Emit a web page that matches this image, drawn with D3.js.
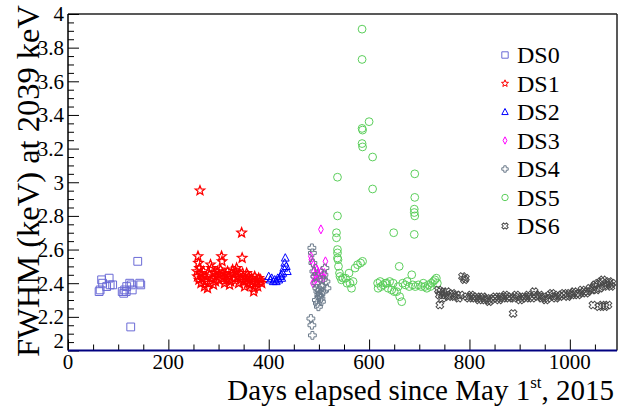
<!DOCTYPE html>
<html><head><meta charset="utf-8">
<script src="https://cdn.jsdelivr.net/npm/d3@7"></script>
</head><body style="margin:0;background:#fff"><svg id="c" width="619" height="407" style="display:block"></svg>
<script>
const xTicks = [0,200,400,600,800,1000];
const yTicks = [2,2.2,2.4,2.6,2.8,3,3.2,3.4,3.6,3.8,4];
const yTickLabels = ["2","2.2","2.4","2.6","2.8","3","3.2","3.4","3.6","3.8","4"];
const seriesNames = ["DS0","DS1","DS2","DS3","DS4","DS5","DS6"];
const seriesColors = ["#6b6bd6","#ff0000","#0000ff","#ff00ff","#6c7b8b","#5ccf5c","#4a4a4a"];
const seriesShapes = ["square","star","triangle","diamond","cross","circle","xcross"];

const ds0 = [[62,2.35],[64,2.36],[67,2.42],[69,2.40],[77,2.38],[82,2.43],[84,2.39],[89,2.39],[108,2.35],[111,2.34],[113,2.36],[116,2.35],[117,2.38],[123,2.40],[126,2.39],[128,2.36],[125,2.14],[139,2.53],[143,2.40],[145,2.39]];
const ds1 = [[257,2.47],[258,2.44],[259,2.56],[260,2.52],[261,2.42],[262,2.49],[263,2.95],[264,2.46],[265,2.40],[266,2.45],[268,2.43],[270,2.47],[272,2.38],[274,2.41],[276,2.44],[278,2.37],[280,2.40],[282,2.45],[284,2.51],[286,2.49],[288,2.43],[290,2.39],[292,2.46],[294,2.41],[296,2.44],[298,2.47],[300,2.42],[302,2.45],[304,2.48],[306,2.56],[307,2.53],[308,2.46],[310,2.43],[312,2.40],[314,2.45],[316,2.42],[318,2.47],[320,2.44],[322,2.39],[324,2.41],[326,2.46],[328,2.48],[330,2.45],[332,2.43],[334,2.47],[336,2.49],[338,2.44],[340,2.40],[342,2.46],[344,2.42],[346,2.70],[347,2.55],[348,2.46],[349,2.44],[350,2.41],[352,2.38],[354,2.43],[356,2.46],[358,2.40],[360,2.44],[362,2.42],[364,2.39],[366,2.43],[368,2.41],[370,2.35],[371,2.37],[372,2.44],[374,2.40],[376,2.42],[378,2.38],[380,2.43],[382,2.41],[384,2.42],[386,2.40]];
const ds2 = [[400,2.44],[403,2.42],[406,2.43],[409,2.41],[412,2.42],[415,2.41],[418,2.43],[420,2.42],[423,2.44],[425,2.45],[426,2.43],[428,2.46],[430,2.49],[432,2.52],[433,2.55],[435,2.50],[437,2.47]];
const ds3 = [[484,2.56],[485,2.54],[487,2.52],[488,2.40],[489,2.44],[490,2.47],[491,2.41],[493,2.45],[494,2.49],[495,2.43],[496,2.48],[498,2.46],[500,2.44],[502,2.42],[504,2.72],[505,2.47],[507,2.45],[509,2.43],[511,2.46],[513,2.53]];
const ds4 = [[486,2.61],[487,2.58],[488,2.52],[490,2.47],[492,2.44],[494,2.40],[496,2.37],[498,2.35],[500,2.33],[502,2.36],[504,2.31],[495,2.30],[497,2.28],[499,2.26],[501,2.32],[503,2.34],[506,2.38],[508,2.42],[510,2.45],[512,2.49],[514,2.41],[516,2.37],[484,2.19],[486,2.15],[487,2.09],[505,2.29],[509,2.35]];
const ds5 = [[537,3.03],[537,2.80],[535,2.70],[535,2.67],[537,2.60],[537,2.58],[537,2.55],[538,2.54],[539,2.50],[541,2.46],[542,2.44],[545,2.42],[548,2.43],[553,2.43],[556,2.40],[560,2.46],[562,2.40],[565,2.37],[568,2.41],[572,2.49],[577,2.51],[583,2.52],[587,2.53],[586,3.91],[586,3.73],[586,3.32],[587,3.31],[586,3.23],[587,3.21],[600,3.36],[607,3.15],[607,2.96],[617,2.40],[618,2.37],[622,2.41],[624,2.38],[628,2.39],[632,2.40],[635,2.40],[638,2.37],[641,2.41],[645,2.36],[648,2.40],[650,2.35],[649,2.70],[655,2.35],[658,2.38],[661,2.32],[665,2.29],[660,2.50],[667,2.40],[672,2.39],[676,2.41],[680,2.38],[685,2.45],[687,2.39],[690,2.69],[691,3.05],[691,2.91],[690,2.84],[690,2.82],[691,2.80],[692,2.38],[698,2.39],[704,2.38],[708,2.40],[711,2.38],[715,2.37],[718,2.39],[722,2.38],[724,2.40],[728,2.41],[731,2.42],[734,2.43],[736,2.40]];
const ds6 = [[738,2.36],[740,2.33],[741,2.27],[743,2.35],[746,2.31],[748,2.34],[751,2.33],[755,2.35],[758,2.32],[762,2.33],[766,2.34],[770,2.32],[774,2.33],[778,2.31],[782,2.33],[786,2.44],[790,2.42],[792,2.43],[795,2.32],[799,2.31],[803,2.33],[807,2.32],[811,2.31],[815,2.32],[819,2.30],[823,2.31],[827,2.32],[831,2.30],[835,2.31],[839,2.29],[843,2.30],[847,2.31],[851,2.32],[855,2.31],[859,2.30],[863,2.32],[867,2.31],[871,2.33],[875,2.32],[879,2.31],[883,2.32],[887,2.22],[889,2.31],[893,2.33],[897,2.32],[901,2.30],[905,2.31],[909,2.32],[913,2.31],[917,2.33],[921,2.32],[925,2.31],[929,2.35],[932,2.33],[936,2.32],[940,2.33],[944,2.31],[948,2.32],[952,2.30],[956,2.31],[960,2.33],[964,2.34],[968,2.32],[972,2.31],[976,2.33],[980,2.32],[984,2.33],[988,2.34],[992,2.33],[996,2.32],[1000,2.34],[1004,2.33],[1008,2.35],[1012,2.34],[1016,2.33],[1020,2.34],[1024,2.36],[1028,2.35],[1032,2.34],[1036,2.35],[1040,2.37],[1044,2.36],[1046,2.27],[1048,2.38],[1050,2.39],[1053,2.36],[1056,2.40],[1058,2.26],[1060,2.37],[1062,2.41],[1064,2.27],[1066,2.42],[1068,2.38],[1070,2.26],[1072,2.40],[1074,2.39],[1076,2.27],[1078,2.41],[1080,2.39],[1082,2.38],[1084,2.40]];
const allSeries = [ds0,ds1,ds2,ds3,ds4,ds5,ds6];

const L=68, R=617, T=14, B=350.5;
const FONT = "Liberation Serif";
const svg = d3.select("#c");
const x = d3.scaleLinear().domain([0,1094]).range([L,R]);
const y = d3.scaleLinear().domain([2,4]).range([B,T]);

function shapePath(kind, s){
  switch(kind){
    case "square": return `M${-s},${-s}H${s}V${s}H${-s}Z`;
    case "circle": return `M${s},0A${s},${s} 0 1,1 ${-s},0A${s},${s} 0 1,1 ${s},0Z`;
    case "triangle": return `M0,${-s*1.1}L${s},${s*0.8}L${-s},${s*0.8}Z`;
    case "diamond": return `M0,${-s*1.15}L${s*0.6},0L0,${s*1.15}L${-s*0.6},0Z`;
    case "star": {
      let p=[]; for(let i=0;i<10;i++){const r=i%2?s*0.5:s*1.15; const a=-Math.PI/2+i*Math.PI/5; p.push([r*Math.cos(a),r*Math.sin(a)]);}
      return "M"+p.map(q=>q[0].toFixed(2)+","+q[1].toFixed(2)).join("L")+"Z";
    }
    case "cross": case "xcross": {
      const a=s*0.38, b=s;
      return `M${-a},${-b}H${a}V${-a}H${b}V${a}H${a}V${b}H${-a}V${a}H${-b}V${-a}H${-a}Z`;
    }
  }
}

svg.append("line").attr("x1",L).attr("x2",R).attr("y1",T).attr("y2",T).attr("stroke","#222").attr("stroke-width",1.5);
svg.append("line").attr("x1",R).attr("x2",R).attr("y1",T).attr("y2",B).attr("stroke","#222").attr("stroke-width",1.5);

allSeries.forEach((data,i)=>{
  const kind=seriesShapes[i];
  const pth=shapePath(kind, kind==="star"?4.3:3.9);
  svg.append("g").selectAll("path").data(data).join("path")
    .attr("d",pth)
    .attr("transform",d=>`translate(${x(d[0])},${y(d[1])})`+(kind==="xcross"?" rotate(45)":""))
    .attr("fill","none").attr("stroke",seriesColors[i]).attr("stroke-width",kind==="star"?1.3:1);
});

const yAxis = d3.axisRight(y).tickValues(d3.range(2,4.001,0.05)).tickSize(6).tickFormat("");
const gy = svg.append("g").attr("transform",`translate(${L},0)`).call(yAxis);
gy.selectAll(".tick line").attr("x2",(d)=> Math.abs(d*5-Math.round(d*5))<1e-6 ? 11 : 6).attr("stroke","#000");
gy.select(".domain").remove();
svg.append("line").attr("x1",L).attr("x2",L).attr("y1",T).attr("y2",B).attr("stroke","#000").attr("stroke-width",1.5);
svg.append("g").selectAll("text").data(yTicks).join("text")
  .style("font-family",FONT)
  .attr("x",L-4).attr("y",(d,i)=> y(d) + (i===0?-10:0)).attr("dy","0.35em").attr("text-anchor","end")
  .attr("font-size",21).text((d,i)=>yTickLabels[i]);

const xAxis = d3.axisTop(x).tickValues(d3.range(0,1094,50)).tickSize(6).tickFormat("");
const gx = svg.append("g").attr("transform",`translate(0,${B})`).call(xAxis);
gx.selectAll(".tick line").attr("y2",d=> d%200===0 ? -11 : -6).attr("stroke","#000");
gx.select(".domain").remove();
svg.append("line").attr("x1",L).attr("x2",R).attr("y1",B).attr("y2",B).attr("stroke","#000080").attr("stroke-width",2);
svg.append("g").selectAll("text").data(xTicks).join("text")
  .style("font-family",FONT)
  .attr("x",d=>x(d)).attr("y",B+18).attr("text-anchor","middle").attr("font-size",21).text(d=>d);

const xt = svg.append("text").style("font-family",FONT).attr("x",R-3).attr("y",400).attr("text-anchor","end").attr("font-size",29);
xt.append("tspan").text("Days elapsed since May 1");
xt.append("tspan").attr("font-size",17).attr("dy",-12).text("st");
xt.append("tspan").attr("dy",12).text(", 2015");
svg.append("text").style("font-family",FONT).attr("transform","translate(39,5) rotate(-90)").attr("text-anchor","end")
  .attr("font-size",32.5).text("FWHM (keV) at 2039 keV");

const legY0=55, legDy=28.5;
const lg = svg.append("g");
seriesNames.forEach((n,i)=>{
  const kind=seriesShapes[i];
  lg.append("path").attr("d",shapePath(kind,3.2))
    .attr("transform",`translate(505,${legY0+i*legDy})`+(kind==="xcross"?" rotate(45)":""))
    .attr("fill","none").attr("stroke",seriesColors[i]).attr("stroke-width",1);
  lg.append("text").style("font-family",FONT).attr("x",517).attr("y",legY0+i*legDy).attr("dy","0.35em").attr("font-size",24).text(n);
});
svg.selectAll("text").style("fill","#000");
</script></body></html>
